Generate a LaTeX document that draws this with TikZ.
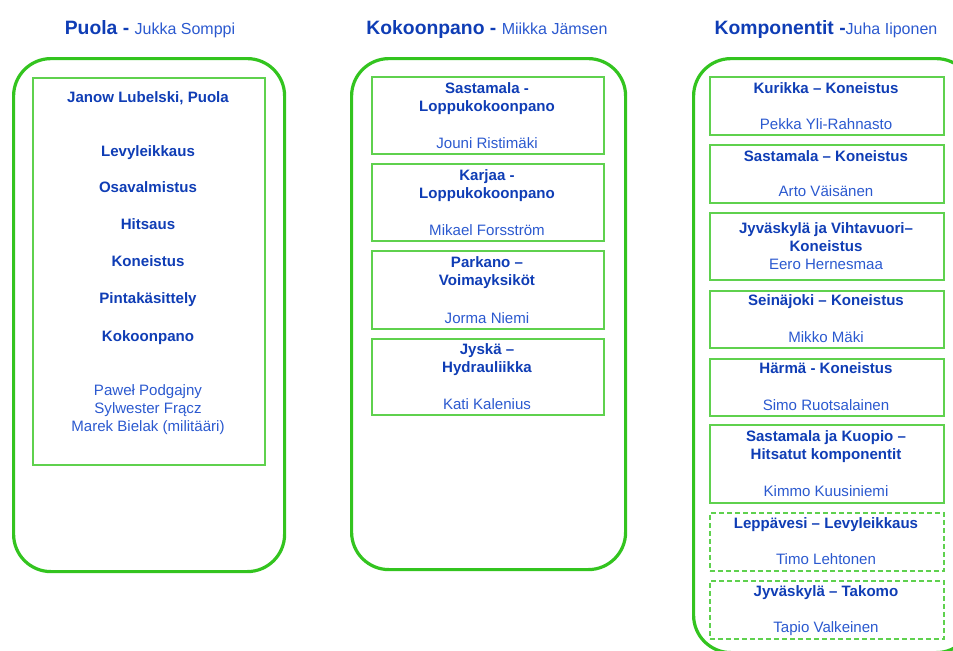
\documentclass[tikz,border=0pt]{standalone}
\usepackage{fontspec}
\setmainfont{Liberation Sans}
\usetikzlibrary{positioning}
\definecolor{navy}{HTML}{0F3DB5}
\definecolor{blue}{HTML}{2B59CF}
\definecolor{green}{HTML}{33C41F}
\definecolor{lightgreen}{HTML}{5FD14E}
\newcommand{\chief}[1]{{\mdseries\fontsize{12}{14}\selectfont\color{blue}#1}}
\tikzset{
  title/.style={font=\fontsize{14.5}{17}\selectfont\bfseries,text=navy,anchor=base},
  site/.style={font=\fontsize{11.3}{13.5}\selectfont\bfseries,text=navy,align=center,anchor=base},
  person/.style={font=\fontsize{11.3}{13.5}\selectfont,text=blue,align=center,anchor=base},
  panel/.style={draw=green,line width=2.4pt,rounded corners=28pt,anchor=north west},
  box/.style={draw=lightgreen,line width=1.3pt,anchor=north west},
  plannedbox/.style={box,dash pattern=on 3.5pt off 2.5pt}
}
\begin{document}
\begin{tikzpicture}[x=0.75pt,y=-0.75pt]
\clip (0,0) rectangle (953,650);
\node[title] (tpuola) at (150,34) {Puola - \chief{Jukka Somppi}};
\node[title] (tkoko) at (487,34) {Kokoonpano - \chief{Miikka Jämsen}};
\node[title] (tkomp) at (826,34) {Komponentit -\chief{Juha Iiponen}};
\node[panel,minimum width=203.25pt,minimum height=384.75pt] (ppuola) at (12,57) {};
\node[panel,minimum width=205.5pt,minimum height=383.25pt] (pkoko) at (350,57) {};
\node[panel,minimum width=210pt,minimum height=445.5pt] (pkomp) at (692,57) {};
\node[box,minimum width=174pt,minimum height=290.25pt] (janow) at (32,77) {};
\node[site] at (148,102) {Janow Lubelski, Puola};
\node[site] at (148,156) {Levyleikkaus}; \node[site] at (148,192) {Osavalmistus}; \node[site] at (148,229) {Hitsaus};
\node[site] at (148,266) {Koneistus}; \node[site] at (148,303) {Pintakäsittely}; \node[site] at (148,341) {Kokoonpano};
\node[person] at (148,431) {Paweł Podgajny\\Sylwester Frącz\\Marek Bielak (militääri)};
\node[box,minimum width=174pt,minimum height=57.75pt] (sastamala) at (371,76) {};
\node[box,minimum width=174pt,minimum height=57.75pt] (karjaa) at (371,163) {};
\node[box,minimum width=174pt,minimum height=58.5pt] (parkano) at (371,250) {};
\node[box,minimum width=174pt,minimum height=57pt] (jyska) at (371,338) {};
\node[site] at (487,111) {Sastamala -\\Loppukokoonpano}; \node[person] at (487,148) {Jouni Ristimäki};
\node[site] at (487,198) {Karjaa -\\Loppukokoonpano}; \node[person] at (487,235) {Mikael Forsström};
\node[site] at (487,285) {Parkano –\\Voimayksiköt}; \node[person] at (487,323) {Jorma Niemi};
\node[site] at (487,372) {Jyskä –\\Hydrauliikka}; \node[person] at (487,409) {Kati Kalenius};
\node[box,minimum width=175.5pt,minimum height=43.5pt] (kurikka) at (709,76) {};
\node[box,minimum width=175.5pt,minimum height=43.5pt] (sastkon) at (709,144) {};
\node[box,minimum width=175.5pt,minimum height=50.25pt] (jyvaskyla) at (709,212) {};
\node[box,minimum width=175.5pt,minimum height=42.75pt] (seinajoki) at (709,290) {};
\node[box,minimum width=175.5pt,minimum height=42.75pt] (harma) at (709,358) {};
\node[box,minimum width=175.5pt,minimum height=58.5pt] (kuopio) at (709,424) {};
\node[plannedbox,minimum width=175.5pt,minimum height=43.5pt] (leppavesi) at (709,512) {};
\node[plannedbox,minimum width=175.5pt,minimum height=43.5pt] (takomo) at (709,580) {};
\node[site] at (826,93) {Kurikka – Koneistus}; \node[person] at (826,129) {Pekka Yli-Rahnasto};
\node[site] at (826,161) {Sastamala – Koneistus}; \node[person] at (826,196) {Arto Väisänen};
\node[site] at (826,251) {Jyväskylä ja Vihtavuori–\\Koneistus}; \node[person] at (826,269) {Eero Hernesmaa};
\node[site] at (826,305) {Seinäjoki – Koneistus}; \node[person] at (826,342) {Mikko Mäki};
\node[site] at (826,373) {Härmä - Koneistus}; \node[person] at (826,410) {Simo Ruotsalainen};
\node[site] at (826,459) {Sastamala ja Kuopio –\\Hitsatut komponentit}; \node[person] at (826,496) {Kimmo Kuusiniemi};
\node[site] at (826,528) {Leppävesi – Levyleikkaus}; \node[person] at (826,564) {Timo Lehtonen};
\node[site] at (826,596) {Jyväskylä – Takomo}; \node[person] at (826,632) {Tapio Valkeinen};
\end{tikzpicture}
\end{document}
